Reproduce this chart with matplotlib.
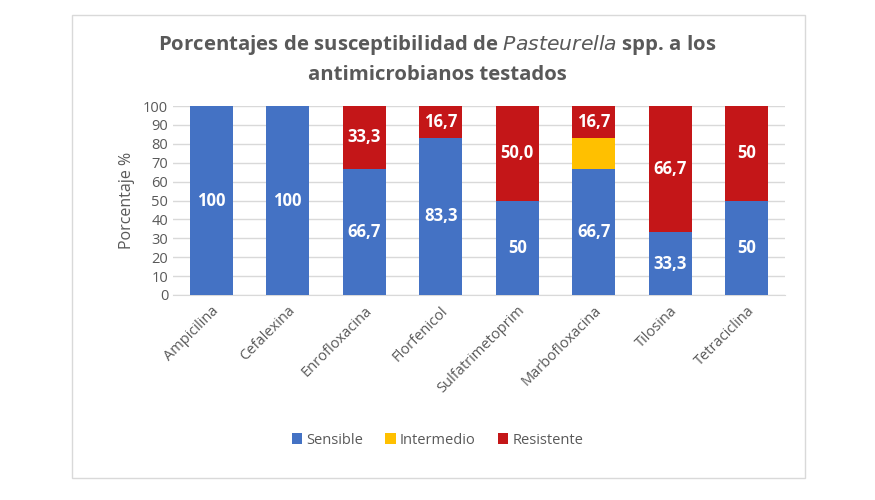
import matplotlib.pyplot as plt
import numpy as np
from matplotlib.patches import Rectangle

# datos
antimicrobianos = ['Ampicilina', 'Cefalexina', 'Enrofloxacina', 'Florfenicol',
                   'Sulfatrimetoprim', 'Marbofloxacina', 'Tilosina', 'Tetraciclina']
sensible = [100, 100, 66.7, 83.3, 50, 66.7, 33.3, 50]
intermedio = [0, 0, 0, 0, 0, 16.6, 0, 0]
resistente = [0, 0, 33.3, 16.7, 50, 16.7, 66.7, 50]
etiq_sensible = ['100', '100', '66,7', '83,3', '50', '66,7', '33,3', '50']
etiq_resistente = ['', '', '33,3', '16,7', '50,0', '16,7', '66,7', '50']

plt.rcParams['font.family'] = ['Open Sans', 'DejaVu Sans']
gris = '#595959'

fig = plt.figure(figsize=(8.75, 5), dpi=100)
fig.patches.append(Rectangle((72 / 875, 1 - 478 / 500), 733 / 875, 463 / 500,
                             transform=fig.transFigure, fill=False,
                             edgecolor='#D9D9D9', linewidth=1))

ax = fig.add_axes([173 / 875, 1 - 295 / 500, 612 / 875, 189 / 500])
x = np.arange(len(antimicrobianos))
w = 0.56

b1 = ax.bar(x, sensible, w, color='#4472C4', label='Sensible', zorder=3)
base2 = np.array(sensible)
b2 = ax.bar(x, intermedio, w, bottom=base2, color='#FFC000', label='Intermedio', zorder=3)
base3 = base2 + np.array(intermedio)
b3 = ax.bar(x, resistente, w, bottom=base3, color='#C41618', label='Resistente', zorder=3)

ax.bar_label(b1, labels=etiq_sensible, label_type='center', color='white',
             fontsize=12, fontweight='bold')
ax.bar_label(b3, labels=etiq_resistente, label_type='center', color='white',
             fontsize=12, fontweight='bold')

ax.set_xlim(-0.5, len(antimicrobianos) - 0.5)
ax.set_ylim(0, 100)
ax.set_yticks(range(0, 101, 10))
ax.set_xticks(x)
ax.set_xticklabels(antimicrobianos, rotation=45, ha='right', rotation_mode='anchor',
                   color=gris, fontsize=10.5)
ax.tick_params(axis='y', colors=gris, labelsize=10.5, length=0)
ax.tick_params(axis='x', length=0, pad=6)
ax.grid(axis='y', color='#D9D9D9', linewidth=1, zorder=0)
for s in ['top', 'right', 'left']:
    ax.spines[s].set_visible(False)
ax.spines['bottom'].set_color('#D9D9D9')
ax.set_ylabel('Porcentaje %', color=gris, fontsize=11.5, labelpad=6)

fig.text(0.5, 1 - 45 / 500, 'Porcentajes de susceptibilidad de $\\mathbf{\\it{Pasteurella}}$ spp. a los',
         ha='center', va='center', fontsize=14.7, fontweight='bold', color=gris)
fig.text(0.5, 1 - 75 / 500, 'antimicrobianos testados',
         ha='center', va='center', fontsize=14.7, fontweight='bold', color=gris)

fig.legend(handles=[b1, b2, b3], loc='center', bbox_to_anchor=(0.5, 1 - 440 / 500),
           ncol=3, frameon=False, fontsize=10.5, labelcolor=gris,
           handlelength=0.7, handleheight=0.7, handletextpad=0.3, columnspacing=1.5)

plt.savefig('out.png', dpi=100)
